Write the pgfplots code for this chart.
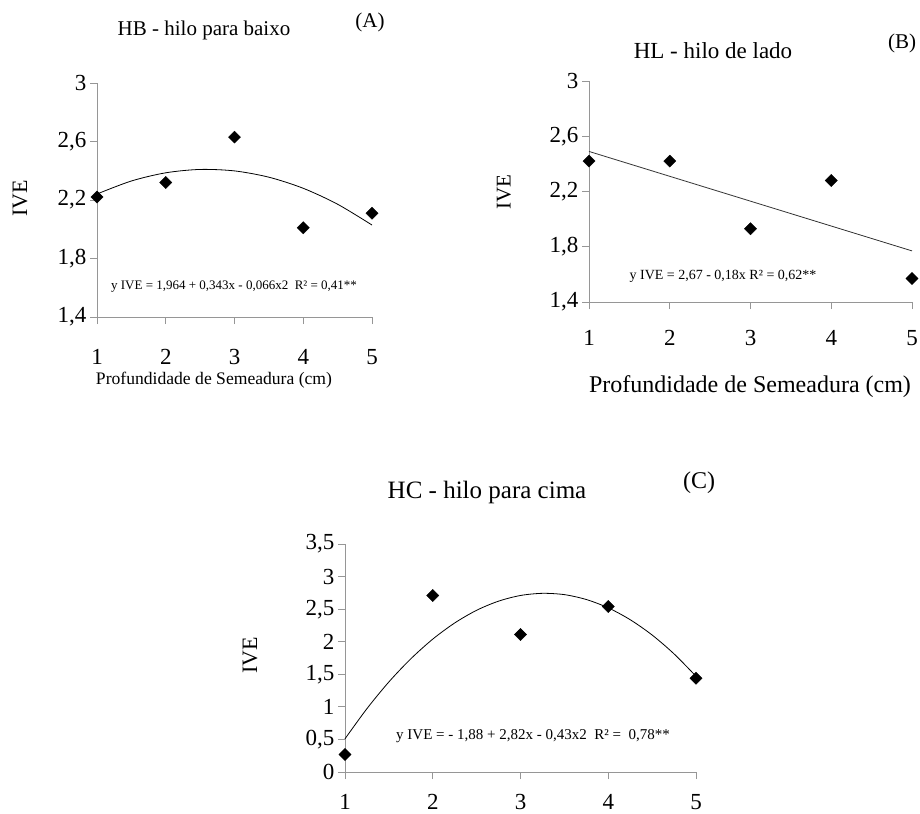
\documentclass[border=0pt]{standalone}
\usepackage{pgfplots}
\pgfplotsset{compat=1.18}
\usepackage{fontspec}
\setmainfont{Liberation Serif}
\definecolor{axgray}{RGB}{150,150,150}
\newcommand{\fs}[1]{\fontsize{#1bp}{#1bp}\selectfont}
\pgfplotsset{
  myax/.style={
    scale only axis, anchor=south west,
    axis x line*=bottom, axis y line*=left,
    axis line style={-, draw=axgray, line width=0.9bp},
    xmin=1, xmax=5, xtick={1,2,3,4,5},
    tick align=outside, major tick length=7bp,
    every tick/.style={draw=axgray, line width=0.9bp},
    tick label style={font=\fs{23}},
    /pgf/number format/assume math mode=true,
    /pgf/number format/use comma,
    /pgf/number format/fixed,
    /pgf/number format/precision=1,
    clip=false,
  },
  pts/.style={only marks, mark=square*, mark size=4.3bp, mark options={rotate=45, fill=black, draw=black}},
  fit/.style={no marks, smooth, black, line width=0.8bp},
}
\pgfplotstableread{
x y
1 2.22
2 2.32
3 2.63
4 2.01
5 2.11
}\dataA
\pgfplotstableread{
x y
1 2.241
1.5 2.330
2 2.386
2.5 2.409
3 2.399
3.5 2.356
4 2.280
4.5 2.171
5 2.029
}\fitA
\pgfplotstableread{
x y
1 2.42
2 2.42
3 1.93
4 2.28
5 1.57
}\dataB
\pgfplotstableread{
x y
1 2.49
5 1.77
}\fitB
\pgfplotstableread{
x y
1 0.27
2 2.71
3 2.11
4 2.54
5 1.44
}\dataC
\pgfplotstableread{
x y
1 0.51
1.25 0.973
1.5 1.383
1.75 1.738
2 2.04
2.25 2.288
2.5 2.483
2.75 2.623
3 2.71
3.25 2.743
3.5 2.723
3.75 2.648
4 2.52
4.25 2.338
4.5 2.103
4.75 1.813
5 1.47
}\fitC
\begin{document}
\begin{tikzpicture}[x=1bp,y=1bp]
\useasboundingbox (0,0) rectangle (920,-814);
% Panel A
\begin{axis}[myax, at={(97bp,-317bp)}, width=275bp, height=234bp,
  ymin=1.4, ymax=3, ytick={1.4,1.8,2.2,2.6,3},
  xticklabel style={yshift=-22bp}]
\addplot[fit] table {\fitA};
\addplot[pts] table {\dataA};
\end{axis}
% Panel B
\begin{axis}[myax, at={(589bp,-302bp)}, width=323bp, height=221bp,
  ymin=1.4, ymax=3, ytick={1.4,1.8,2.2,2.6,3},
  xticklabel style={yshift=-18bp}]
\addplot[no marks, color=black!80, line width=0.8bp] table {\fitB};
\addplot[pts] table {\dataB};
\end{axis}
% Panel C
\begin{axis}[myax, at={(345bp,-772bp)}, width=351bp, height=228bp,
  ymin=0, ymax=3.5, ytick={0,0.5,1,1.5,2,2.5,3,3.5},
  xticklabel style={yshift=-12bp}]
\addplot[fit] table {\fitC};
\addplot[pts] table {\dataC};
\end{axis}
% texts A
\node[font=\fs{21}] at (204,-30) {HB - hilo para baixo};
\node[font=\fs{21}] at (370,-22) {(A)};
\node[font=\fs{22}, rotate=90] at (20,-198) {IVE};
\node[font=\fs{17.6}] at (214,-380) {Profundidade de Semeadura (cm)};
\node[font=\fs{13}] at (234,-287) {y IVE = 1,964 + 0,343x - 0,066x2\ \ R² = 0,41**};
% texts B
\node[font=\fs{23}] at (713,-51) {HL - hilo de lado};
\node[font=\fs{21}] at (902,-43) {(B)};
\node[font=\fs{21}, rotate=90] at (504,-192) {IVE};
\node[font=\fs{24}] at (750,-387) {Profundidade de Semeadura (cm)};
\node[font=\fs{14}] at (723,-276) {y IVE = 2,67 - 0,18x R² = 0,62**};
% texts C
\node[font=\fs{25}] at (487,-492) {HC - hilo para cima};
\node[font=\fs{24}] at (699,-483) {(C)};
\node[font=\fs{22}, rotate=90] at (250,-655) {IVE};
\node[font=\fs{15}] at (533,-736) {y IVE = - 1,88 + 2,82x - 0,43x2\ \ R² =\ \ 0,78**};
\end{tikzpicture}
\end{document}
